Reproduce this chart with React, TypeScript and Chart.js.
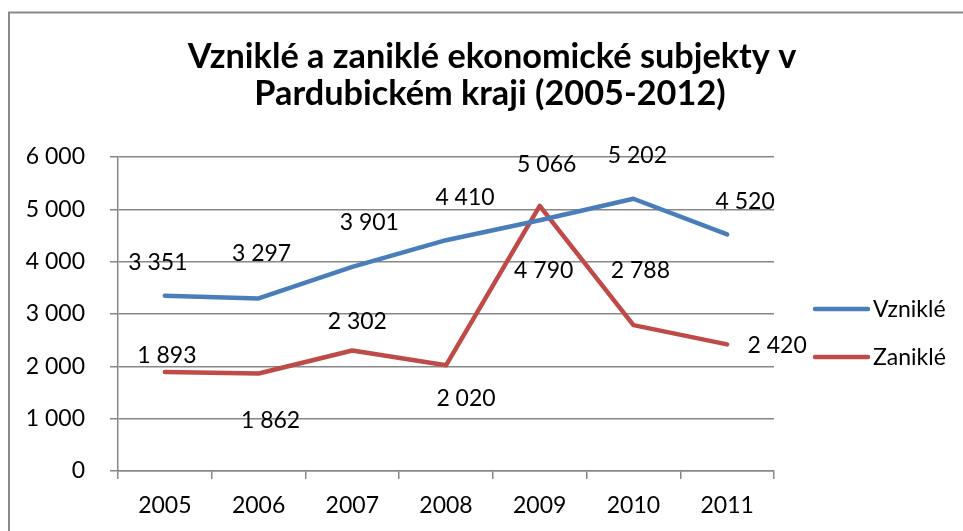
import React, { useEffect, useRef } from "react";
import { Chart, registerables } from "chart.js";

Chart.register(...registerables);

const years = ["2005", "2006", "2007", "2008", "2009", "2010", "2011"];
const vznikle = [3351, 3297, 3901, 4410, 4790, 5202, 4520];
const zanikle = [1893, 1862, 2302, 2020, 5066, 2788, 2420];
const seriesNames = ["Vzniklé", "Zaniklé"];
const titleLines = ["Vzniklé a zaniklé ekonomické subjekty v", "Pardubickém kraji (2005-2012)"];
const yMin = 0;
const yMax = 6000;
const yStep = 1000;

// label placement (style only): pixel offsets from each point
const labelOffsets = [
  [[-7, -34], [3, -45], [17, -45], [19, -43], [4, 50], [4, -44], [18, -33]],
  [[2, -17], [12, 46], [5, -30], [20, 33], [7, -42], [7, -55], [50, 1]],
];

const FONT = "Lato, 'Open Sans', sans-serif";
const BLUE = "#4A7EBB";
const RED = "#BE4B48";
const GRID = "#878787";

const fmt = (v: number) => {
  const s = Math.round(v).toString();
  return s.replace(/\B(?=(\d{3})+(?!\d))/g, " ");
};

const decorPlugin = {
  id: "decor",
  afterDraw(chart: any) {
    const ctx = chart.ctx;
    ctx.save();
    // frame
    ctx.strokeStyle = "#8a8a8a";
    ctx.lineWidth = 2;
    ctx.beginPath();
    ctx.moveTo(9, 531);
    ctx.lineTo(9, 12.5);
    ctx.lineTo(963, 12.5);
    ctx.stroke();

    // title
    ctx.fillStyle = "#000";
    ctx.textAlign = "center";
    ctx.textBaseline = "alphabetic";
    ctx.font = `bold 32px ${FONT}`;
    const w = ctx.measureText(titleLines[0]).width;
    const size = (32 * 609) / w;
    ctx.font = `bold ${size}px ${FONT}`;
    ctx.fillText(titleLines[0], 492, 68);
    ctx.fillText(titleLines[1], 490, 105);

    // data labels
    ctx.font = `23px ${FONT}`;
    ctx.textAlign = "center";
    chart.data.datasets.forEach((ds: any, di: number) => {
      const meta = chart.getDatasetMeta(di);
      meta.data.forEach((pt: any, i: number) => {
        const [dx, dy] = labelOffsets[di][i];
        ctx.fillText(fmt(ds.data[i]), pt.x + dx, pt.y + dy + 8);
      });
    });

    // legend
    const legendY = [309, 357];
    chart.data.datasets.forEach((ds: any, di: number) => {
      ctx.strokeStyle = ds.borderColor;
      ctx.lineWidth = 4.5;
      ctx.lineCap = "round";
      ctx.beginPath();
      ctx.moveTo(815, legendY[di]);
      ctx.lineTo(868, legendY[di]);
      ctx.stroke();
      ctx.fillStyle = "#000";
      ctx.textAlign = "left";
      ctx.font = `23px ${FONT}`;
      ctx.fillText(ds.label, 873, legendY[di] + 8);
    });
    ctx.restore();
  },
};

export default function App() {
  const ref = useRef<HTMLCanvasElement>(null);
  useEffect(() => {
    let chart: any = null;
    let cancelled = false;
    const make = () => {
      if (cancelled || !ref.current) return;
      chart = new Chart(ref.current, {
        type: "line",
        data: {
          labels: years,
          datasets: [
            {
              label: seriesNames[0],
              data: vznikle,
              borderColor: BLUE,
              backgroundColor: BLUE,
              borderWidth: 4.5,
              pointRadius: 0,
              tension: 0,
              borderJoinStyle: "round",
              borderCapStyle: "round",
            },
            {
              label: seriesNames[1],
              data: zanikle,
              borderColor: RED,
              backgroundColor: RED,
              borderWidth: 4.5,
              pointRadius: 0,
              tension: 0,
              borderJoinStyle: "round",
              borderCapStyle: "round",
            },
          ],
        },
        options: {
          responsive: false,
          animation: false,
          devicePixelRatio: 1,
          layout: { padding: { left: 0, top: 157, right: 189, bottom: 0 } },
          plugins: {
            legend: { display: false },
            title: { display: false },
            tooltip: { enabled: false },
          },
          scales: {
            x: {
              offset: true,
              grid: {
                offset: true,
                drawOnChartArea: false,
                color: GRID,
                lineWidth: 1.5,
                tickLength: 8,
              },
              border: { color: GRID, width: 1.5 },
              ticks: {
                color: "#000",
                font: { family: FONT, size: 23 },
                padding: 13,
                maxRotation: 0,
              },
              afterFit: (s: any) => {
                s.height = 60;
              },
            },
            y: {
              min: yMin,
              max: yMax,
              grid: { color: GRID, lineWidth: 1.5, tickLength: 8 },
              border: { color: GRID, width: 1.5 },
              ticks: {
                stepSize: yStep,
                color: "#000",
                font: { family: FONT, size: 23 },
                padding: 25,
                callback: (v: any) => fmt(Number(v)),
              },
              afterFit: (s: any) => {
                s.width = 118;
              },
            },
          },
        },
        plugins: [decorPlugin],
      } as any);
    };
    const fonts: any = (document as any).fonts;
    if (fonts && fonts.load) {
      Promise.all([fonts.load(`23px Lato`), fonts.load(`bold 32px Lato`)])
        .catch(() => null)
        .then(make);
    } else {
      make();
    }
    return () => {
      cancelled = true;
      if (chart) chart.destroy();
    };
  }, []);
  return (
    <div style={{ position: "fixed", left: 0, top: 0, width: 963, height: 531, background: "#fff" }}>
      <canvas ref={ref} width={963} height={531} style={{ display: "block" }} />
    </div>
  );
}
